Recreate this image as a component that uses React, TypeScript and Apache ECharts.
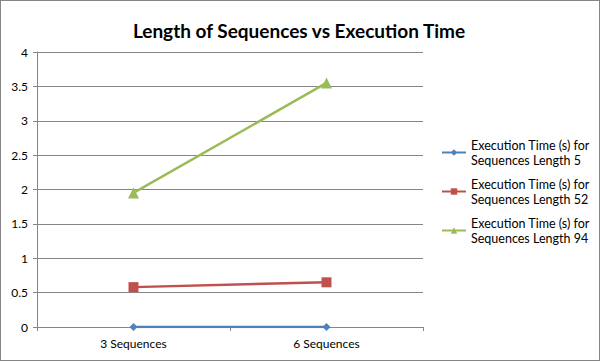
import React, { useEffect, useRef } from "react";
import * as echarts from "echarts";

const categories = ["3 Sequences", "6 Sequences"];
const seriesNames = [
  "Execution Time (s) for\nSequences Length 5",
  "Execution Time (s) for\nSequences Length 52",
  "Execution Time (s) for\nSequences Length 94",
];
const len5 = [0, 0];
const len52 = [0.58, 0.65];
const len94 = [1.95, 3.55];
const colors = ["#4F81BD", "#C0504D", "#9BBB59"];
const symbols = ["diamond", "rect", "triangle"];

const FONT = "Lato, 'Open Sans', sans-serif";

export default function App() {
  const ref = useRef<HTMLDivElement>(null);
  useEffect(() => {
    const chart = echarts.init(ref.current!, null, { renderer: "svg" });
    const data = [len5, len52, len94];
    chart.setOption({
      animation: false,
      textStyle: { fontFamily: FONT },
      title: {
        text: "Length of Sequences vs Execution Time",
        left: 293,
        textAlign: "center",
        top: 15,
        textStyle: { fontSize: 19, fontWeight: "bold", color: "#000", fontFamily: FONT },
      },
      legend: {
        orient: "vertical",
        left: 440,
        top: 129,
        padding: 0,
        itemGap: -6,
        itemWidth: 24,
        itemHeight: 8,
        textStyle: { fontSize: 12.5, color: "#000", lineHeight: 15, padding: [15, 0, 0, 0] },
        data: seriesNames,
      },
      grid: { left: 36, right: 176, top: 51, bottom: 33 },
      xAxis: {
        type: "category",
        data: categories,
        boundaryGap: true,
        axisLine: { lineStyle: { color: "#868686" } },
        axisTick: { show: true, inside: false, length: 4, lineStyle: { color: "#868686" } },
        axisLabel: { color: "#000", fontSize: 12, margin: 10 },
      },
      yAxis: {
        type: "value",
        min: 0,
        max: 4,
        interval: 0.5,
        axisLine: { show: true, lineStyle: { color: "#868686" } },
        axisTick: { show: true, length: 4, lineStyle: { color: "#868686" } },
        axisLabel: { color: "#000", fontSize: 12, margin: 9 },
        splitLine: { lineStyle: { color: "#868686", width: 1 } },
      },
      series: seriesNames.map((name, i) => ({
        name,
        type: "line",
        data: data[i],
        symbol: symbols[i],
        symbolSize: i === 1 ? 10 : i === 2 ? 11 : 8,
        lineStyle: { color: colors[i], width: 2.5 },
        itemStyle: { color: colors[i] },
      })),
    });
    return () => chart.dispose();
  }, []);
  return (
    <div
      style={{
        position: "fixed",
        left: 0,
        top: 0,
        width: 600,
        height: 361,
        boxSizing: "border-box",
        border: "1px solid #868686",
        background: "#fff",
      }}
    >
      <div ref={ref} style={{ width: 598, height: 359 }} />
    </div>
  );
}
